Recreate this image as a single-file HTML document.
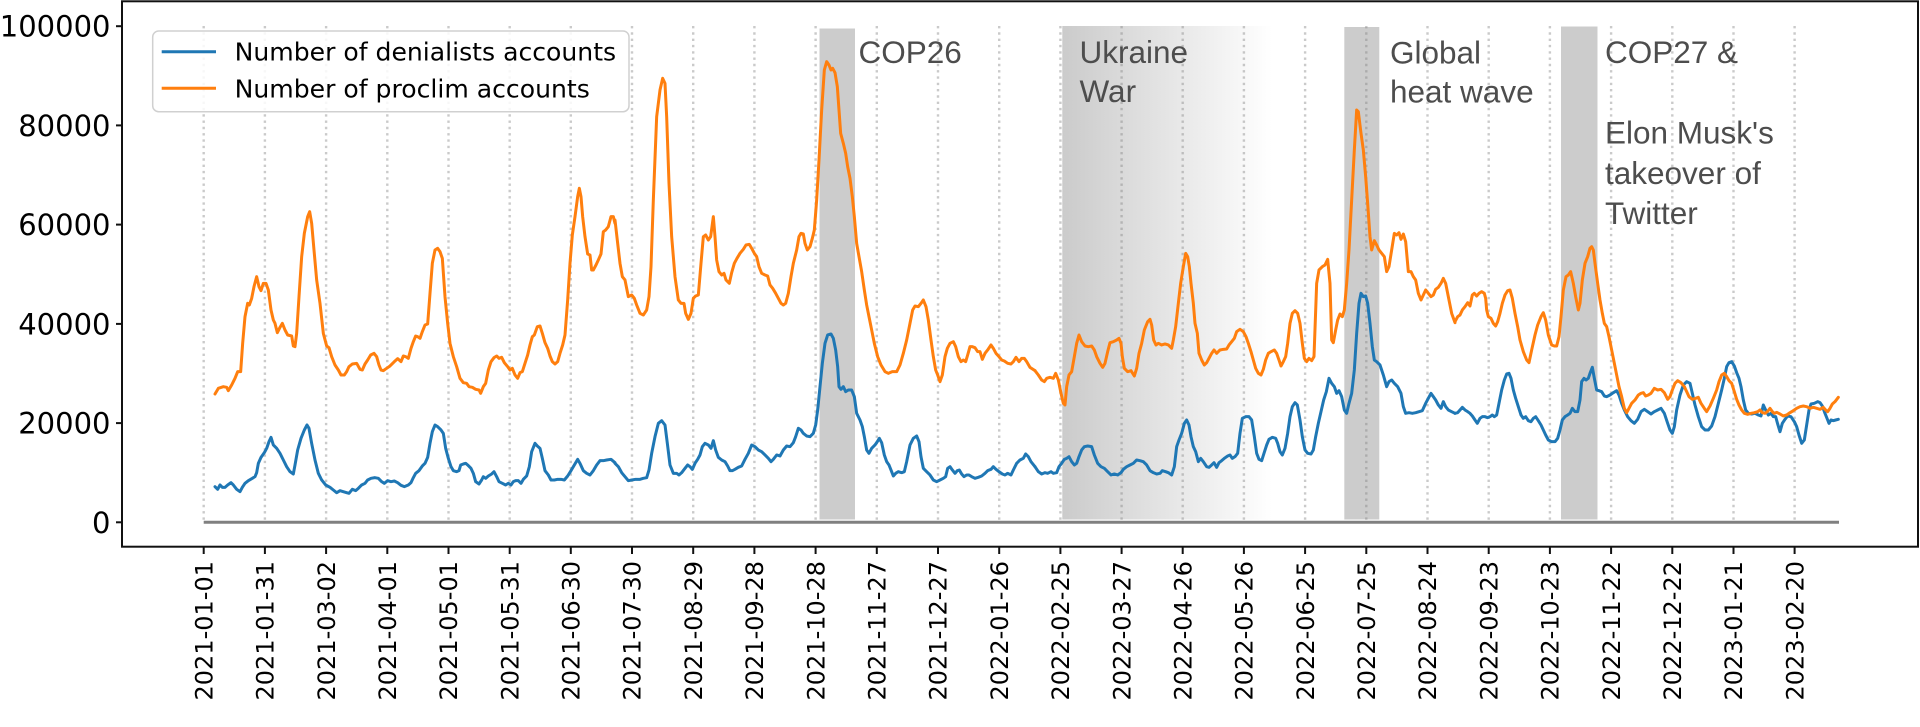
<!DOCTYPE html>
<html><head><meta charset="utf-8"><style>
html,body{margin:0;padding:0;background:#fff;}
body{width:1920px;height:727px;overflow:hidden;}
svg{display:block;}
.tk{font-family:"DejaVu Sans","Liberation Sans",sans-serif;font-size:24px;fill:#000;}
.yt{font-family:"DejaVu Sans","Liberation Sans",sans-serif;font-size:29px;fill:#000;}
.lg{font-family:"DejaVu Sans","Liberation Sans",sans-serif;font-size:25.1px;fill:#000;}
.an{font-family:"Liberation Sans",Arial,sans-serif;font-size:31.5px;fill:#4d4d4d;}
.s{fill:none;stroke-width:3;stroke-linejoin:round;stroke-linecap:round;}
</style></head><body>
<svg width="1920" height="727" viewBox="0 0 1920 727" xmlns="http://www.w3.org/2000/svg">
<defs>
<linearGradient id="ug" x1="1062.3" y1="0" x2="1272" y2="0" gradientUnits="userSpaceOnUse">
<stop offset="0" stop-color="#cbcbcb"/>
<stop offset="1" stop-color="#ffffff"/>
</linearGradient>
</defs>
<rect x="0" y="0" width="1920" height="727" fill="#fff"/>
<!-- bands -->
<rect x="1062.3" y="26" width="210" height="493.5" fill="url(#ug)"/>
<rect x="819.5" y="28.5" width="35.5" height="491" fill="#cccccc"/>
<rect x="1344.3" y="27" width="35" height="492.5" fill="#cccccc"/>
<rect x="1561" y="26.5" width="36.5" height="493" fill="#cccccc"/>
<!-- dotted vlines -->
<g stroke="#808080" stroke-opacity="0.42" stroke-width="2.4" stroke-dasharray="2.4 3.9">
<line x1="203.7" y1="26" x2="203.7" y2="522"/><line x1="264.9" y1="26" x2="264.9" y2="522"/>
<line x1="326.1" y1="26" x2="326.1" y2="522"/><line x1="387.3" y1="26" x2="387.3" y2="522"/>
<line x1="448.5" y1="26" x2="448.5" y2="522"/><line x1="509.7" y1="26" x2="509.7" y2="522"/>
<line x1="570.8" y1="26" x2="570.8" y2="522"/><line x1="632.0" y1="26" x2="632.0" y2="522"/>
<line x1="693.2" y1="26" x2="693.2" y2="522"/><line x1="754.4" y1="26" x2="754.4" y2="522"/>
<line x1="815.6" y1="26" x2="815.6" y2="522"/><line x1="876.8" y1="26" x2="876.8" y2="522"/>
<line x1="938.0" y1="26" x2="938.0" y2="522"/><line x1="999.2" y1="26" x2="999.2" y2="522"/>
<line x1="1060.4" y1="26" x2="1060.4" y2="522"/><line x1="1121.6" y1="26" x2="1121.6" y2="522"/>
<line x1="1182.7" y1="26" x2="1182.7" y2="522"/><line x1="1243.9" y1="26" x2="1243.9" y2="522"/>
<line x1="1305.1" y1="26" x2="1305.1" y2="522"/><line x1="1366.3" y1="26" x2="1366.3" y2="522"/>
<line x1="1427.5" y1="26" x2="1427.5" y2="522"/><line x1="1488.7" y1="26" x2="1488.7" y2="522"/>
<line x1="1549.9" y1="26" x2="1549.9" y2="522"/><line x1="1611.1" y1="26" x2="1611.1" y2="522"/>
<line x1="1672.3" y1="26" x2="1672.3" y2="522"/><line x1="1733.5" y1="26" x2="1733.5" y2="522"/>
<line x1="1794.6" y1="26" x2="1794.6" y2="522"/>
</g>
<!-- zero line -->
<line x1="203.7" y1="522.3" x2="1839" y2="522.3" stroke="#808080" stroke-width="3"/>
<!-- blue series -->
<g class="s" stroke="#1f77b4">
<polyline vector-effect="non-scaling-stroke" transform="translate(195,50) scale(0.33333)" points="60,1310 68,1318 75,1305 82,1312 90,1312 98,1305 108,1298 115,1305 125,1318 135,1325 142,1312 150,1300 160,1292 172,1285 180,1280 185,1268 190,1240 198,1222 208,1208 215,1195 222,1175 228,1162 235,1185 245,1195 255,1210 265,1230 275,1250 285,1265 295,1272 300,1245 308,1200 318,1165 328,1140 336,1125 342,1135 350,1180 360,1230 370,1270 380,1290 392,1305 405,1312 415,1320 425,1328 435,1322 445,1325 455,1328 462,1330 472,1318 482,1322 490,1315 500,1305 510,1300 518,1290 528,1285 540,1283 550,1285 560,1295 568,1300 578,1292 588,1295 598,1293 608,1298 618,1306 628,1310 640,1305 648,1298 655,1283 662,1270 672,1262 682,1248 690,1240 698,1222 705,1180 712,1145 720,1125 728,1130 738,1140 745,1150 752,1195 760,1225 768,1250 775,1262 785,1265 792,1262 797,1245 805,1242 812,1240 818,1245 828,1255 835,1270 842,1295 852,1302 860,1290 865,1280 872,1285 880,1278 890,1272 897,1265 905,1280 912,1295 922,1300 932,1305 940,1300 948,1305 955,1295 962,1292 970,1292 978,1300 985,1288 995,1278 1003,1250 1010,1205 1020,1180 1027,1188 1035,1195 1042,1225 1050,1262 1060,1275 1068,1290 1078,1290 1088,1288 1098,1288 1108,1290 1118,1278 1128,1262 1138,1245 1148,1228 1155,1240 1165,1262 1175,1270 1185,1275 1195,1262 1205,1245 1215,1232 1225,1232 1235,1230 1248,1228 1260,1238"/>
<polyline vector-effect="non-scaling-stroke" transform="translate(615,50) scale(0.33333)" points="0,1240 10,1250 20,1268 30,1280 40,1292 50,1290 62,1288 75,1288 85,1285 95,1283 102,1260 110,1210 120,1160 130,1120 140,1112 150,1125 157,1180 165,1245 175,1270 185,1270 192,1275 200,1268 210,1255 218,1245 225,1250 232,1258 240,1240 248,1228 255,1215 262,1190 270,1180 280,1185 288,1195 295,1172 302,1200 310,1222 320,1230 330,1235 338,1248 345,1262 352,1262 360,1258 370,1252 380,1248 390,1228 400,1210 410,1185 420,1190 430,1200 440,1205 450,1215 460,1225 468,1235 475,1228 485,1215 495,1218 505,1200 515,1188 525,1190 535,1178 542,1160 550,1135 558,1140 565,1150 575,1158 585,1160 595,1150 602,1125 608,1080 615,1010 622,940 630,880 638,855 648,852 655,865 662,900 668,950 672,1010 678,1018 685,1010 692,1025 700,1020 710,1020 718,1040 725,1090 735,1110 742,1130 748,1160 755,1200 762,1210 770,1195 780,1185 787,1175 793,1165 800,1178 808,1215 815,1235 822,1245 830,1265 835,1278 842,1270 850,1265 860,1268 868,1265 875,1235 885,1185 895,1165 905,1158 912,1175 918,1220 925,1255 935,1265 945,1275 955,1290 965,1295 975,1290 985,1285 992,1280 998,1255 1005,1250 1012,1260 1020,1270 1027,1262 1033,1260 1040,1272 1047,1280 1055,1275 1062,1275 1070,1280 1080,1285 1090,1282 1100,1278 1110,1270 1118,1262 1128,1258 1135,1250 1143,1258 1152,1265 1162,1272 1170,1275 1178,1270 1188,1275 1195,1260 1205,1240 1215,1230 1225,1225 1232,1212 1240,1220 1248,1235 1260,1250"/>
<polyline vector-effect="non-scaling-stroke" transform="translate(1035,50) scale(0.33333)" points="0,1250 10,1265 20,1272 30,1268 38,1270 48,1265 55,1270 65,1268 72,1250 80,1240 88,1228 95,1225 102,1220 110,1235 118,1245 125,1240 132,1220 140,1200 148,1190 158,1188 170,1190 178,1215 188,1240 198,1250 208,1255 218,1265 228,1275 238,1272 248,1275 258,1268 265,1258 275,1250 285,1245 295,1240 305,1230 315,1232 325,1235 335,1245 345,1262 355,1268 365,1272 375,1270 382,1262 392,1265 400,1268 410,1275 418,1250 425,1190 432,1170 440,1150 448,1120 455,1110 462,1125 468,1160 475,1190 482,1205 490,1235 497,1225 505,1235 515,1250 522,1252 530,1245 537,1238 545,1252 552,1238 560,1232 568,1225 578,1218 585,1215 592,1225 600,1220 608,1210 615,1150 622,1105 632,1100 642,1100 650,1110 658,1160 665,1210 672,1228 680,1232 687,1210 695,1185 702,1168 712,1162 722,1165 728,1180 735,1205 742,1215 750,1195 758,1150 765,1100 772,1070 780,1058 787,1065 795,1110 802,1160 810,1200 818,1210 828,1212 835,1200 842,1160 850,1120 858,1085 866,1050 874,1025 882,985 890,1000 898,1010 905,1030 912,1022 920,1040 928,1080 935,1090 942,1060 950,1030 958,960 965,850 972,760 978,730 985,740 992,738 998,760 1005,820 1012,890 1018,930 1025,935 1035,945 1045,975 1055,1010 1062,995 1070,990 1078,1000 1088,1010 1098,1030 1105,1070 1112,1090 1122,1088 1132,1090 1142,1088 1152,1085 1162,1082 1172,1060 1180,1045 1188,1030 1195,1040 1202,1050 1210,1065 1218,1075 1225,1055 1232,1070 1240,1080 1250,1085 1260,1090"/>
<polyline vector-effect="non-scaling-stroke" transform="translate(1455,50) scale(0.33333)" points="0,1090 8,1088 15,1080 22,1072 30,1080 38,1085 45,1090 52,1098 60,1110 67,1120 75,1105 82,1100 90,1100 98,1103 105,1100 112,1095 118,1100 125,1095 132,1060 140,1020 148,990 155,972 162,970 168,985 175,1020 182,1045 190,1070 198,1095 205,1105 212,1100 220,1112 228,1115 235,1105 242,1100 250,1112 258,1125 265,1140 272,1155 280,1170 290,1175 300,1175 308,1165 315,1140 322,1110 330,1100 338,1095 345,1090 352,1075 360,1085 368,1085 375,1050 380,995 387,985 393,990 400,985 405,970 412,952 418,985 425,1020 432,1022 440,1025 448,1038 455,1040 465,1035 475,1028 485,1022 492,1035 500,1060 508,1080 518,1100 528,1112 538,1120 548,1108 558,1085 568,1078 578,1085 588,1092 598,1085 608,1080 618,1075 628,1090 638,1120 645,1140 652,1150 658,1130 665,1080 675,1035 685,1005 695,995 705,1000 712,1030 720,1065 730,1100 740,1130 750,1140 760,1140 770,1128 780,1100 790,1060 800,1020 808,985 815,950 822,938 830,935 838,948 845,968 852,985 858,1010 865,1050 872,1080 880,1090 890,1092 900,1090 910,1095 918,1098 925,1065 932,1080 940,1095 948,1090 955,1100 962,1100 968,1122 975,1145 982,1120 990,1108 998,1098 1008,1100 1018,1115 1025,1130 1032,1155 1040,1180 1048,1170 1055,1125 1062,1080 1068,1062 1078,1060 1088,1055 1095,1058 1102,1068 1110,1090 1118,1110 1122,1120 1128,1110 1135,1112 1142,1110 1150,1108"/>
</g>
<!-- orange series -->
<g class="s" stroke="#ff7f0e">
<polyline vector-effect="non-scaling-stroke" transform="translate(195,50) scale(0.33333)" points="60,1032 70,1015 85,1010 95,1012 100,1022 110,1005 120,985 128,965 137,965 143,880 150,800 158,760 163,765 170,745 177,710 185,680 192,710 198,722 205,700 213,700 220,720 228,780 235,810 240,820 247,848 255,832 262,820 270,840 278,855 290,858 295,888 300,890 305,850 312,740 320,620 328,550 338,500 344,485 350,520 357,600 365,690 375,760 385,850 395,888 402,893 410,920 420,945 430,960 438,975 448,975 455,965 462,950 472,942 485,940 495,958 502,960 510,942 518,930 527,915 537,910 545,920 552,945 558,960 565,962 575,955 585,948 598,935 608,926 618,935 625,918 632,920 640,925 648,895 655,875 662,858 668,860 675,865 682,845 690,825 698,822 705,730 712,640 720,600 728,595 735,605 742,625 750,740 758,820 765,880 775,920 785,950 795,985 805,998 815,1000 822,1010 832,1012 842,1018 852,1020 857,1030 865,1010 872,1000 880,960 888,935 897,923 905,918 912,925 920,922 928,938 938,950 945,960 952,955 960,975 968,985 975,968 982,965 990,940 998,915 1005,885 1012,860 1018,855 1027,830 1035,828 1042,850 1050,878 1058,895 1065,918 1072,935 1080,942 1088,935 1095,910 1103,885 1110,855 1118,750 1125,640 1132,555 1140,500 1148,440 1153,415 1158,440 1163,500 1170,560 1178,612 1185,615 1190,660 1195,660 1203,645 1210,630 1218,612 1225,545 1232,540 1240,530 1248,500 1255,500 1260,520"/>
<polyline vector-effect="non-scaling-stroke" transform="translate(615,50) scale(0.33333)" points="0,510 8,580 15,640 22,680 30,690 40,740 50,735 58,745 65,765 75,790 85,795 95,780 102,740 108,650 115,450 125,200 135,120 143,85 150,100 155,200 162,400 170,560 180,680 190,750 198,760 207,760 212,790 220,808 228,790 235,745 242,738 250,735 258,640 265,560 272,555 280,570 287,560 295,500 300,560 305,630 312,665 320,675 327,670 333,690 343,700 350,668 358,640 366,625 375,610 385,598 393,585 403,583 410,595 418,610 425,620 432,650 440,670 450,675 458,678 465,705 473,715 482,730 490,745 498,760 505,765 512,760 520,730 528,680 535,640 545,600 552,560 558,550 565,552 570,580 577,600 585,590 592,565 598,540 605,450 612,330 620,180 628,60 635,35 642,45 648,60 653,55 660,68 667,110 672,180 677,250 685,280 692,310 698,350 705,385 712,440 718,500 725,580 732,620 740,665 748,720 755,765 762,800 770,840 778,880 788,920 798,945 810,965 820,970 832,965 845,965 855,945 865,910 875,870 885,820 893,780 900,768 910,770 918,760 925,750 933,770 940,810 948,870 955,920 962,960 968,975 975,995 982,975 990,920 997,895 1005,880 1015,875 1022,890 1030,920 1038,935 1045,930 1052,935 1058,915 1065,890 1072,890 1080,893 1088,905 1095,905 1102,928 1110,910 1118,900 1128,885 1135,895 1143,910 1152,920 1160,930 1168,933 1178,940 1188,942 1195,935 1203,922 1212,935 1220,925 1228,925 1235,935 1245,952 1260,962"/>
<polyline vector-effect="non-scaling-stroke" transform="translate(1035,50) scale(0.33333)" points="0,962 10,975 20,990 28,995 35,985 45,982 55,985 62,970 70,990 78,1030 85,1060 90,1065 95,1010 102,975 110,965 118,920 125,880 132,855 140,875 150,888 160,890 170,888 178,900 185,920 195,940 203,952 210,940 218,905 225,878 235,875 245,870 252,865 258,880 262,920 268,955 278,965 288,962 298,978 305,955 312,910 320,880 328,840 338,815 345,808 350,825 356,870 363,885 370,880 380,885 390,882 400,885 410,895 415,870 422,830 430,760 437,700 445,650 452,610 458,620 463,650 468,700 475,760 480,820 487,850 492,910 500,930 508,945 515,938 522,925 530,910 537,900 545,910 555,900 565,898 575,897 582,885 590,875 598,865 605,845 615,838 625,845 633,860 640,880 648,905 655,930 662,955 670,970 678,975 685,958 692,930 700,910 708,905 718,900 725,910 732,930 738,948 745,935 752,920 758,880 765,820 772,790 780,782 788,790 795,820 802,880 808,925 815,935 822,925 830,932 837,920 845,700 852,660 862,650 870,645 878,628 885,700 890,870 895,878 902,840 908,810 915,792 922,800 928,780 935,700 942,600 950,450 958,300 965,180 970,185 978,250 985,300 992,380 998,460 1005,560 1010,600 1018,572 1025,585 1032,600 1040,610 1048,620 1055,665 1062,650 1070,600 1078,550 1085,555 1092,548 1098,568 1105,552 1112,575 1120,665 1128,665 1135,680 1142,690 1150,730 1158,750 1165,735 1172,720 1180,730 1188,740 1195,735 1202,718 1210,712 1218,700 1225,685 1232,700 1240,740 1250,790 1260,818"/>
<polyline vector-effect="non-scaling-stroke" transform="translate(1455,50) scale(0.33333)" points="0,815 8,800 15,795 22,780 30,770 38,758 45,768 52,735 58,730 65,738 72,730 80,725 88,730 92,745 95,780 100,800 108,805 115,820 122,828 128,815 135,790 142,760 150,735 158,722 165,720 172,745 180,790 188,830 195,870 205,905 215,930 222,938 230,900 240,855 248,825 258,800 265,788 272,810 280,855 290,885 298,888 305,888 312,860 318,800 325,720 333,680 340,675 347,665 355,700 362,740 370,780 375,760 382,690 390,640 398,620 405,595 410,590 415,600 420,640 428,700 435,750 442,790 448,820 455,830 462,860 470,900 478,940 485,975 492,1010 500,1040 508,1075 515,1088 522,1075 530,1060 540,1050 550,1035 558,1030 565,1028 572,1038 580,1035 588,1030 598,1015 608,1020 618,1018 628,1028 638,1048 645,1040 652,1020 660,1000 668,992 678,998 688,1010 695,1025 702,1040 712,1048 722,1045 730,1042 738,1060 748,1075 755,1085 765,1068 775,1045 785,1020 792,995 800,975 808,970 815,980 822,992 830,1000 838,1025 845,1048 852,1065 860,1080 868,1090 878,1093 888,1090 898,1088 908,1085 915,1080 922,1088 930,1090 937,1085 945,1075 952,1085 958,1090 965,1087 975,1092 985,1098 995,1095 1005,1088 1015,1082 1025,1075 1035,1070 1045,1068 1055,1070 1065,1075 1075,1072 1085,1075 1095,1078 1105,1072 1112,1080 1118,1085 1125,1075 1132,1062 1140,1055 1150,1042"/>
</g>
<!-- annotations -->
<text class="an" x="858.5" y="63">COP26</text>
<text class="an" x="1079.5" y="63">Ukraine</text>
<text class="an" x="1079.5" y="102">War</text>
<text class="an" x="1390" y="63.5">Global</text>
<text class="an" x="1390" y="102.5">heat wave</text>
<text class="an" x="1605" y="63">COP27 &amp;</text>
<text class="an" x="1605" y="143.5">Elon Musk's</text>
<text class="an" x="1605" y="184">takeover of</text>
<text class="an" x="1605" y="224">Twitter</text>
<!-- legend -->
<rect x="152.7" y="31" width="476.3" height="80.7" rx="6" ry="6" fill="#ffffff" fill-opacity="0.85" stroke="#d0d0d0" stroke-width="1.5"/>
<line x1="161.7" y1="51.7" x2="216" y2="51.7" stroke="#1f77b4" stroke-width="3"/>
<line x1="161.7" y1="88.3" x2="216" y2="88.3" stroke="#ff7f0e" stroke-width="3"/>
<text class="lg" x="234.6" y="60.7">Number of denialists accounts</text>
<text class="lg" x="234.6" y="97.3">Number of proclim accounts</text>
<!-- axes frame -->
<rect x="122" y="1.3" width="1796" height="545.4" fill="none" stroke="#111" stroke-width="2"/>
<!-- y ticks -->
<g stroke="#111" stroke-width="2">
<line x1="116" y1="522.3" x2="122" y2="522.3"/><line x1="116" y1="423.1" x2="122" y2="423.1"/>
<line x1="116" y1="323.9" x2="122" y2="323.9"/><line x1="116" y1="224.6" x2="122" y2="224.6"/>
<line x1="116" y1="125.4" x2="122" y2="125.4"/><line x1="116" y1="26.2" x2="122" y2="26.2"/>
</g>
<g class="yt" text-anchor="end">
<text x="110.5" y="532.8">0</text>
<text x="110.5" y="433.6">20000</text>
<text x="110.5" y="334.4">40000</text>
<text x="110.5" y="235.1">60000</text>
<text x="110.5" y="135.9">80000</text>
<text x="110.5" y="36.7">100000</text>
</g>
<!-- x ticks -->
<g stroke="#111" stroke-width="2">
<line x1="203.7" y1="546.7" x2="203.7" y2="554"/><line x1="264.9" y1="546.7" x2="264.9" y2="554"/>
<line x1="326.1" y1="546.7" x2="326.1" y2="554"/><line x1="387.3" y1="546.7" x2="387.3" y2="554"/>
<line x1="448.5" y1="546.7" x2="448.5" y2="554"/><line x1="509.7" y1="546.7" x2="509.7" y2="554"/>
<line x1="570.8" y1="546.7" x2="570.8" y2="554"/><line x1="632.0" y1="546.7" x2="632.0" y2="554"/>
<line x1="693.2" y1="546.7" x2="693.2" y2="554"/><line x1="754.4" y1="546.7" x2="754.4" y2="554"/>
<line x1="815.6" y1="546.7" x2="815.6" y2="554"/><line x1="876.8" y1="546.7" x2="876.8" y2="554"/>
<line x1="938.0" y1="546.7" x2="938.0" y2="554"/><line x1="999.2" y1="546.7" x2="999.2" y2="554"/>
<line x1="1060.4" y1="546.7" x2="1060.4" y2="554"/><line x1="1121.6" y1="546.7" x2="1121.6" y2="554"/>
<line x1="1182.7" y1="546.7" x2="1182.7" y2="554"/><line x1="1243.9" y1="546.7" x2="1243.9" y2="554"/>
<line x1="1305.1" y1="546.7" x2="1305.1" y2="554"/><line x1="1366.3" y1="546.7" x2="1366.3" y2="554"/>
<line x1="1427.5" y1="546.7" x2="1427.5" y2="554"/><line x1="1488.7" y1="546.7" x2="1488.7" y2="554"/>
<line x1="1549.9" y1="546.7" x2="1549.9" y2="554"/><line x1="1611.1" y1="546.7" x2="1611.1" y2="554"/>
<line x1="1672.3" y1="546.7" x2="1672.3" y2="554"/><line x1="1733.5" y1="546.7" x2="1733.5" y2="554"/>
<line x1="1794.6" y1="546.7" x2="1794.6" y2="554"/>
</g>
<g class="tk" text-anchor="end">
<text transform="translate(212.4,561) rotate(-90)">2021-01-01</text>
<text transform="translate(273.6,561) rotate(-90)">2021-01-31</text>
<text transform="translate(334.8,561) rotate(-90)">2021-03-02</text>
<text transform="translate(396.0,561) rotate(-90)">2021-04-01</text>
<text transform="translate(457.2,561) rotate(-90)">2021-05-01</text>
<text transform="translate(518.4,561) rotate(-90)">2021-05-31</text>
<text transform="translate(579.5,561) rotate(-90)">2021-06-30</text>
<text transform="translate(640.7,561) rotate(-90)">2021-07-30</text>
<text transform="translate(701.9,561) rotate(-90)">2021-08-29</text>
<text transform="translate(763.1,561) rotate(-90)">2021-09-28</text>
<text transform="translate(824.3,561) rotate(-90)">2021-10-28</text>
<text transform="translate(885.5,561) rotate(-90)">2021-11-27</text>
<text transform="translate(946.7,561) rotate(-90)">2021-12-27</text>
<text transform="translate(1007.9,561) rotate(-90)">2022-01-26</text>
<text transform="translate(1069.1,561) rotate(-90)">2022-02-25</text>
<text transform="translate(1130.3,561) rotate(-90)">2022-03-27</text>
<text transform="translate(1191.4,561) rotate(-90)">2022-04-26</text>
<text transform="translate(1252.6,561) rotate(-90)">2022-05-26</text>
<text transform="translate(1313.8,561) rotate(-90)">2022-06-25</text>
<text transform="translate(1375.0,561) rotate(-90)">2022-07-25</text>
<text transform="translate(1436.2,561) rotate(-90)">2022-08-24</text>
<text transform="translate(1497.4,561) rotate(-90)">2022-09-23</text>
<text transform="translate(1558.6,561) rotate(-90)">2022-10-23</text>
<text transform="translate(1619.8,561) rotate(-90)">2022-11-22</text>
<text transform="translate(1681.0,561) rotate(-90)">2022-12-22</text>
<text transform="translate(1742.2,561) rotate(-90)">2023-01-21</text>
<text transform="translate(1803.3,561) rotate(-90)">2023-02-20</text>
</g>
</svg>
</body></html>
